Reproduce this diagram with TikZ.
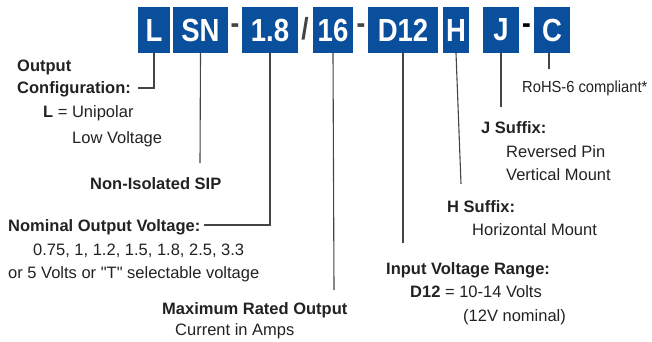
\documentclass[tikz,border=0pt]{standalone}
\usepackage{fontspec}
\setmainfont{Liberation Sans}
\newfontfamily\boxfont[FakeStretch=0.86]{Liberation Sans}
\newfontfamily\narrowfont[FakeStretch=0.92]{Liberation Sans}
\definecolor{pnblue}{HTML}{0A4F9C}
\definecolor{lnc}{HTML}{444444}
\definecolor{txc}{HTML}{222222}
\begin{document}
\begin{tikzpicture}[x=1pt,y=-1pt,
  code/.style={fill=pnblue,text=white,inner sep=0pt,font=\boxfont\bfseries\fontsize{32}{32}\selectfont,minimum height=46pt},
  sepmark/.style={inner sep=0pt,text=lnc,font=\boxfont\bfseries\fontsize{30.5}{30}\selectfont},
  lbl/.style={anchor=base west,inner sep=0pt,text=txc,font=\fontsize{16.5}{18}\selectfont},
  conn/.style={draw=lnc,line width=1.1pt}]
\useasboundingbox (0,0) rectangle (652,341);
% code boxes
\node[code,minimum width=32pt] (bL) at (154,30) {L};
\node[code,minimum width=55pt] (bSN) at (200.5,30) {SN};
\node[sepmark] (d1) at (235,29) {-};
\node[code,minimum width=56pt] (b18) at (270,30) {1.8};
\node[sepmark] (sl) at (305,29) {/};
\node[code,minimum width=40pt] (b16) at (333,30) {16};
\node[sepmark] (d2) at (361,29) {-};
\node[code,minimum width=70pt] (bD) at (403,30) {D12};
\node[code,minimum width=26pt] (bH) at (456,30) {H};
\node[code,minimum width=36pt] (bJ) at (501,30) {J};
\node[sepmark,text=black] (d3) at (526.5,29) {-};
\node[code,minimum width=36pt] (bC) at (552,30) {C};
% labels
\node[lbl] (oc1) at (17,71) {\bfseries Output};
\node[lbl] (oc2) at (17,93) {\bfseries Configuration:};
\node[lbl] (oc3) at (43,117) {\bfseries L\mdseries{} = Unipolar};
\node[lbl] (oc4) at (72,143) {Low Voltage};
\node[lbl] (sip) at (90,189) {\bfseries Non-Isolated SIP};
\node[lbl] (nv1) at (8,231) {\bfseries Nominal Output Voltage:};
\node[lbl] (nv2) at (33,255) {0.75, 1, 1.2, 1.5, 1.8, 2.5, 3.3};
\node[lbl] (nv3) at (8,278) {or 5 Volts or \textquotedbl T\textquotedbl{} selectable voltage};
\node[lbl] (mr1) at (162,314) {\bfseries Maximum Rated Output};
\node[lbl] (mr2) at (175,335) {Current in Amps};
\node[lbl] (iv1) at (386,274) {\bfseries Input Voltage Range:};
\node[lbl] (iv2) at (410,297) {\bfseries D12\mdseries{} = 10-14 Volts};
\node[lbl] (iv3) at (463,321) {(12V nominal)};
\node[lbl] (js1) at (481,133) {\bfseries J Suffix:};
\node[lbl] (js2) at (506,157) {Reversed Pin};
\node[lbl] (js3) at (506,180) {Vertical Mount};
\node[lbl] (hs1) at (447,212) {\bfseries H Suffix:};
\node[lbl] (hs2) at (472,235) {Horizontal Mount};
\node[lbl,font=\narrowfont\fontsize{16}{18}\selectfont] (rh) at (522,92) {RoHS-6 compliant*};
% connector end points
\coordinate (eL) at (138,88);
\coordinate (eSN) at (200,163);
\coordinate (e18) at (204,225);
\coordinate (e16) at (334,290);
\coordinate (eD) at (403,243);
\coordinate (eH) at (461,184);
\coordinate (eJ) at (501,107);
\coordinate (eC) at (549,69);
% connectors
\draw[conn] (bL.south) |- (eL);
\draw[conn] (bSN.south) -- (eSN);
\draw[conn] (b18.south) |- (e18);
\draw[conn] (b16.south) -- (e16);
\draw[conn] (bD.south) -- (eD);
\draw[conn] (bH.south) -- (eH);
\draw[conn] (bJ.south) -- (eJ);
\draw[conn] (bC.south -| eC) -- (eC);
\end{tikzpicture}
\end{document}
